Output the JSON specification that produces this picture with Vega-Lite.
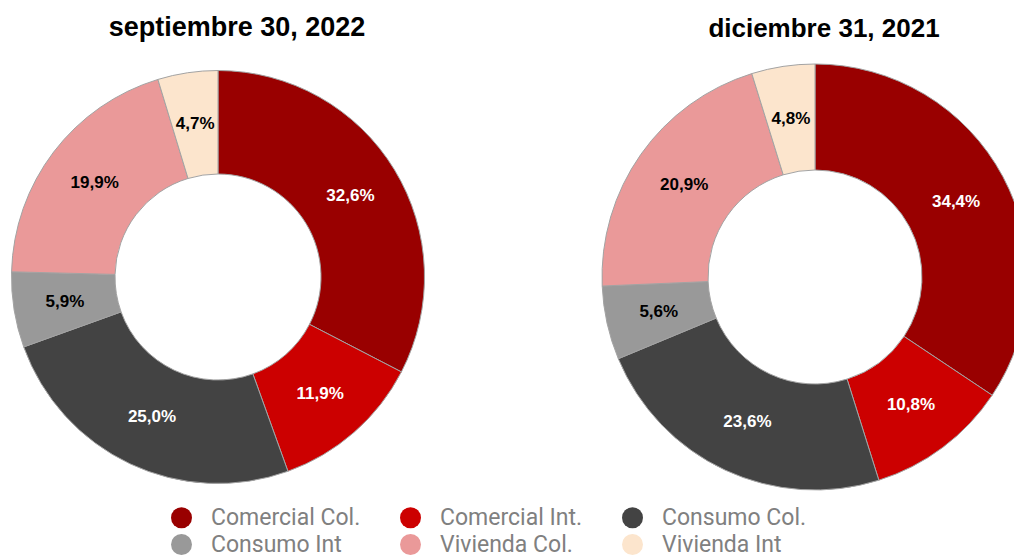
{
  "$schema": "https://vega.github.io/schema/vega-lite/v6.json",
  "padding": {"left": 0, "top": 14, "right": 0, "bottom": 0},
  "background": "white",
  "datasets": {
    "cartera": [
      {"fecha": "septiembre 30, 2022", "categoria": "Comercial Col.", "valor": 32.6},
      {"fecha": "septiembre 30, 2022", "categoria": "Comercial Int.", "valor": 11.9},
      {"fecha": "septiembre 30, 2022", "categoria": "Consumo Col.", "valor": 25.0},
      {"fecha": "septiembre 30, 2022", "categoria": "Consumo Int", "valor": 5.9},
      {"fecha": "septiembre 30, 2022", "categoria": "Vivienda Col.", "valor": 19.9},
      {"fecha": "septiembre 30, 2022", "categoria": "Vivienda Int", "valor": 4.7},
      {"fecha": "diciembre 31, 2021", "categoria": "Comercial Col.", "valor": 34.4},
      {"fecha": "diciembre 31, 2021", "categoria": "Comercial Int.", "valor": 10.8},
      {"fecha": "diciembre 31, 2021", "categoria": "Consumo Col.", "valor": 23.6},
      {"fecha": "diciembre 31, 2021", "categoria": "Consumo Int", "valor": 5.6},
      {"fecha": "diciembre 31, 2021", "categoria": "Vivienda Col.", "valor": 20.9},
      {"fecha": "diciembre 31, 2021", "categoria": "Vivienda Int", "valor": 4.8}
    ]
  },
  "data": {"name": "cartera"},
  "spacing": 161,
  "resolve": {"scale": {"color": "shared"}, "legend": {"color": "shared"}},
  "hconcat": [
    {
      "width": 436,
      "height": 440,
      "title": {"text": "septiembre 30, 2022", "dx": 19, "fontSize": 27},
      "transform": [
        {"filter": "datum.fecha == 'septiembre 30, 2022'"},
        {"calculate": "replace(format(datum.valor, '.1f'), '.', ',') + '%'", "as": "etiqueta"}
      ],
      "encoding": {
        "theta": {"field": "valor", "type": "quantitative", "stack": true},
        "order": {"field": "categoria", "type": "ordinal", "sort": "ascending"}
      },
      "layer": [
        {
          "mark": {"type": "arc", "outerRadius": 206.5, "innerRadius": 103, "stroke": "#a3a3a3", "strokeWidth": 1},
          "encoding": {
            "color": {
              "field": "categoria",
              "type": "nominal",
              "scale": {
                "domain": ["Comercial Col.", "Comercial Int.", "Consumo Col.", "Consumo Int", "Vivienda Col.", "Vivienda Int"],
                "range": ["#990000", "#cc0000", "#434343", "#999999", "#ea9999", "#fce5cd"]
              },
              "legend": {
                "orient": "none",
                "legendX": 170,
                "legendY": 449,
                "direction": "horizontal",
                "columns": 3,
                "title": null,
                "symbolType": "circle",
                "symbolSize": 440,
                "symbolStrokeWidth": 0,
                "symbolOpacity": 1,
                "labelFont": "Roboto",
                "labelFontSize": 23,
                "labelColor": "#808080",
                "labelOffset": 18,
                "labelLimit": 400,
                "columnPadding": 38,
                "rowPadding": 3
              }
            }
          }
        },
        {
          "mark": {"type": "text", "radius": 155, "font": "Liberation Sans", "fontSize": 17, "fontWeight": "bold"},
          "encoding": {
            "detail": {"field": "categoria", "type": "nominal"},
            "text": {"field": "etiqueta", "type": "nominal"},
            "color": {
              "condition": {"test": "indexof(['Comercial Col.', 'Comercial Int.', 'Consumo Col.'], datum.categoria) >= 0", "value": "#ffffff"},
              "value": "#000000"
            }
          }
        }
      ]
    },
    {
      "width": 436,
      "height": 440,
      "title": {"text": "diciembre 31, 2021", "dx": 9},
      "transform": [
        {"filter": "datum.fecha == 'diciembre 31, 2021'"},
        {"calculate": "replace(format(datum.valor, '.1f'), '.', ',') + '%'", "as": "etiqueta"}
      ],
      "encoding": {
        "theta": {"field": "valor", "type": "quantitative", "stack": true},
        "order": {"field": "categoria", "type": "ordinal", "sort": "ascending"}
      },
      "layer": [
        {
          "mark": {"type": "arc", "outerRadius": 213, "innerRadius": 107, "stroke": "#a3a3a3", "strokeWidth": 1},
          "encoding": {
            "color": {"field": "categoria", "type": "nominal"}
          }
        },
        {
          "mark": {"type": "text", "radius": 160, "font": "Liberation Sans", "fontSize": 17, "fontWeight": "bold"},
          "encoding": {
            "detail": {"field": "categoria", "type": "nominal"},
            "text": {"field": "etiqueta", "type": "nominal"},
            "color": {
              "condition": {"test": "indexof(['Comercial Col.', 'Comercial Int.', 'Consumo Col.'], datum.categoria) >= 0", "value": "#ffffff"},
              "value": "#000000"
            }
          }
        }
      ]
    }
  ],
  "config": {
    "view": {"stroke": null},
    "title": {"font": "Liberation Sans", "fontSize": 26, "fontWeight": "bold", "color": "#000000", "anchor": "middle", "offset": 15}
  }
}
